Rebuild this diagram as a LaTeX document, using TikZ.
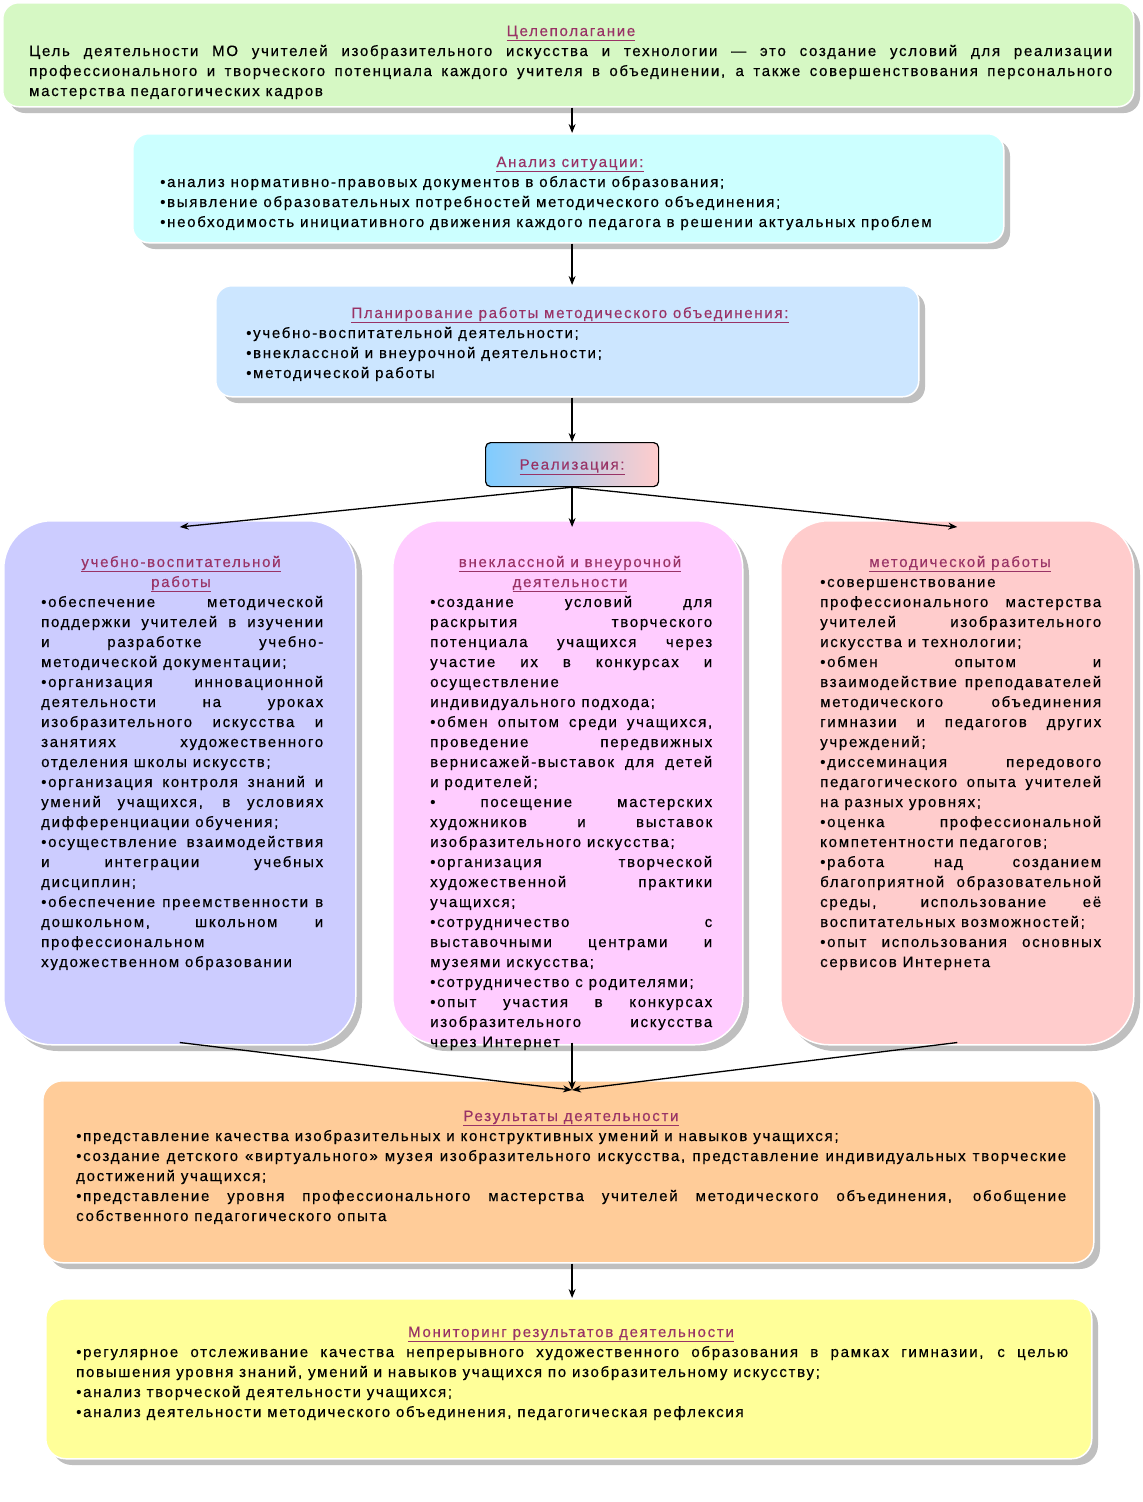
\documentclass[tikz,border=0pt]{standalone}
\usepackage{fontspec}
\setmainfont[LetterSpace=11.5,FakeBold=0.4]{Liberation Sans}
\usetikzlibrary{arrows.meta}
\definecolor{ttl}{HTML}{993366}
\definecolor{cgreen}{HTML}{D6F8C4}
\definecolor{ccyan}{HTML}{CCFFFF}
\definecolor{cblue}{HTML}{CCE6FF}
\definecolor{cl}{HTML}{CCCCFF}
\definecolor{cm}{HTML}{FFCCFF}
\definecolor{cr}{HTML}{FFCCCC}
\definecolor{co}{HTML}{FFCC99}
\definecolor{cy}{HTML}{FFFF99}
\newcommand\Jl[1]{\makebox[\linewidth][s]{#1}\\}
\newcommand\Ll[1]{#1\\}
\tikzset{
 box/.style={anchor=north west, inner sep=0pt, rounded corners=#1, draw=white, line width=1.5pt},
 shd/.style={fill=black!45, opacity=0.55, rounded corners=#1},
 ttlnode/.style={anchor=base, inner sep=0pt, text=ttl, font=\fontsize{15}{20}\selectfont},
 body/.style={anchor=base west, inner sep=0pt, font=\fontsize{15}{20}\selectfont, align=left},
 arr/.style={-{Stealth[length=9pt,width=7pt]}, line width=1.3pt}
}
\newcommand\bx[7]{% name, x1,y1,x2,y2, fill, radius
 \fill[shd=#7] (#2+7,#3+7) rectangle (#4+7,#5+7);
 \node[box=#7, fill=#6, minimum width=#4-#2, minimum height=#5-#3] (#1) at (#2,#3) {};}
\begin{document}
\begin{tikzpicture}[x=1pt,y=-1pt]
\useasboundingbox (0,0) rectangle (1143,1502);
\fill[white] (0,0) rectangle (1143,1502);
% boxes
\bx{g}{2}{2}{1133}{106}{cgreen}{16}
\bx{c}{132}{133}{1003}{242}{ccyan}{16}
\bx{b}{215}{285}{918}{396}{cblue}{16}
\bx{lc}{3}{520}{355}{1044}{cl}{48}
\bx{mc}{392}{520}{742}{1044}{cm}{48}
\bx{rc}{780}{520}{1133}{1044}{cr}{48}
\bx{o}{42}{1080}{1093}{1262}{co}{20}
\bx{y}{45}{1298}{1091}{1458}{cy}{20}
\node[anchor=north west, minimum width=173, minimum height=44, inner sep=0pt, draw=black, line width=1.2pt, rounded corners=5, left color=blue!40!cyan!50, right color=cr] (r) at (485,442) {};
% texts
\node[ttlnode] at (571,36) {\underline{Целеполагание}};
\node[body] at (29,56) {\parbox[t]{1083pt}{\baselineskip=20pt
\Jl{Цель деятельности МО учителей изобразительного искусства и технологии — это создание условий для реализации}
\Jl{профессионального и творческого потенциала каждого учителя в объединении, а также совершенствования персонального}
мастерства педагогических кадров}};
\node[ttlnode] at (570,167) {\underline{Анализ ситуации:}};
\node[body] at (160,187) {\parbox[t]{840pt}{\baselineskip=20pt
\Ll{•анализ нормативно-правовых документов в области образования;}
\Ll{•выявление образовательных потребностей методического объединения;}
•необходимость инициативного движения каждого педагога в решении актуальных проблем}};
\node[ttlnode] at (570,318) {\underline{Планирование работы методического объединения:}};
\node[body] at (246,338) {\parbox[t]{650pt}{\baselineskip=20pt
\Ll{•учебно-воспитательной деятельности;}
\Ll{•внеклассной и внеурочной деятельности;}
•методической работы}};
\node[ttlnode] at (r.center) [yshift=-5pt] {\underline{Реализация:}};
% left column
\node[ttlnode] at (181,567) {\underline{учебно-воспитательной}};
\node[ttlnode] at (181,587) {\underline{работы}};
\node[body] at (41,607) {\parbox[t]{282pt}{\baselineskip=20pt
\Jl{•обеспечение методической}
\Jl{поддержки учителей в изучении}
\Jl{и разработке учебно-}
\Ll{методической документации;}
\Jl{•организация инновационной}
\Jl{деятельности на уроках}
\Jl{изобразительного искусства и}
\Jl{занятиях художественного}
\Ll{отделения школы искусств;}
\Jl{•организация контроля знаний и}
\Jl{умений учащихся, в условиях}
\Ll{дифференциации обучения;}
\Jl{•осуществление взаимодействия}
\Jl{и интеграции учебных}
\Ll{дисциплин;}
\Jl{•обеспечение преемственности в}
\Jl{дошкольном, школьном и}
\Ll{профессиональном}
художественном образовании}};
% middle column
\node[ttlnode] at (570,567) {\underline{внеклассной и внеурочной}};
\node[ttlnode] at (570,587) {\underline{деятельности}};
\node[body] at (430,607) {\parbox[t]{282pt}{\baselineskip=20pt
\Jl{•создание условий для}
\Jl{раскрытия творческого}
\Jl{потенциала учащихся через}
\Jl{участие их в конкурсах и}
\Ll{осуществление}
\Ll{индивидуального подхода;}
\Jl{•обмен опытом среди учащихся,}
\Jl{проведение передвижных}
\Jl{вернисажей-выставок для детей}
\Ll{и родителей;}
\Jl{•~посещение мастерских}
\Jl{художников и выставок}
\Ll{изобразительного искусства;}
\Jl{•организация творческой}
\Jl{художественной практики}
\Ll{учащихся;}
\Jl{•сотрудничество с}
\Jl{выставочными центрами и}
\Ll{музеями искусства;}
\Ll{•сотрудничество с родителями;}
\Jl{•опыт участия в конкурсах}
\Jl{изобразительного искусства}
через Интернет}};
% right column
\node[ttlnode] at (960,567) {\underline{методической работы}};
\node[body] at (820,587) {\parbox[t]{281pt}{\baselineskip=20pt
\Ll{•совершенствование}
\Jl{профессионального мастерства}
\Jl{учителей изобразительного}
\Ll{искусства и технологии;}
\Jl{•обмен опытом и}
\Jl{взаимодействие преподавателей}
\Jl{методического объединения}
\Jl{гимназии и педагогов других}
\Ll{учреждений;}
\Jl{•диссеминация передового}
\Jl{педагогического опыта учителей}
\Ll{на разных уровнях;}
\Jl{•оценка профессиональной}
\Ll{компетентности педагогов;}
\Jl{•работа над созданием}
\Jl{благоприятной образовательной}
\Jl{среды, использование её}
\Ll{воспитательных возможностей;}
\Jl{•опыт использования основных}
сервисов Интернета}};
% results
\node[ttlnode] at (571,1121) {\underline{Результаты деятельности}};
\node[body] at (76,1141) {\parbox[t]{990pt}{\baselineskip=20pt
\Ll{•представление качества изобразительных и конструктивных умений и навыков учащихся;}
\Jl{•создание детского «виртуального» музея изобразительного искусства, представление индивидуальных творческие}
\Ll{достижений учащихся;}
\Jl{•представление уровня профессионального мастерства учителей методического объединения, обобщение}
собственного педагогического опыта}};
% monitoring
\node[ttlnode] at (571,1337) {\underline{Мониторинг результатов деятельности}};
\node[body] at (76,1357) {\parbox[t]{992pt}{\baselineskip=20pt
\Jl{•регулярное отслеживание качества непрерывного художественного образования в рамках гимназии, с целью}
\Ll{повышения уровня знаний, умений и навыков учащихся по изобразительному искусству;}
\Ll{•анализ творческой деятельности учащихся;}
•анализ деятельности методического объединения, педагогическая рефлексия}};
% arrows
\coordinate (oin) at (572,1090);
\draw[arr] (g.south -| r.south) -- (c.north -| r.south);
\draw[arr] (c.south -| r.south) -- (b.north -| r.south);
\draw[arr] (b.south -| r.south) -- (r.north);
\draw[arr] (r.south) -- ([yshift=-7pt]lc.north);
\draw[arr] (r.south) -- ([yshift=-7pt]mc.north -| r.south);
\draw[arr] (r.south) -- ([yshift=-7pt]rc.north);
\draw[arr] ([yshift=3pt]lc.south) -- (oin);
\draw[arr] ([yshift=3pt]mc.south -| oin) -- (oin);
\draw[arr] ([yshift=3pt]rc.south) -- (oin);
\draw[arr] (o.south -| r.south) -- (y.north -| r.south);
\end{tikzpicture}
\end{document}
